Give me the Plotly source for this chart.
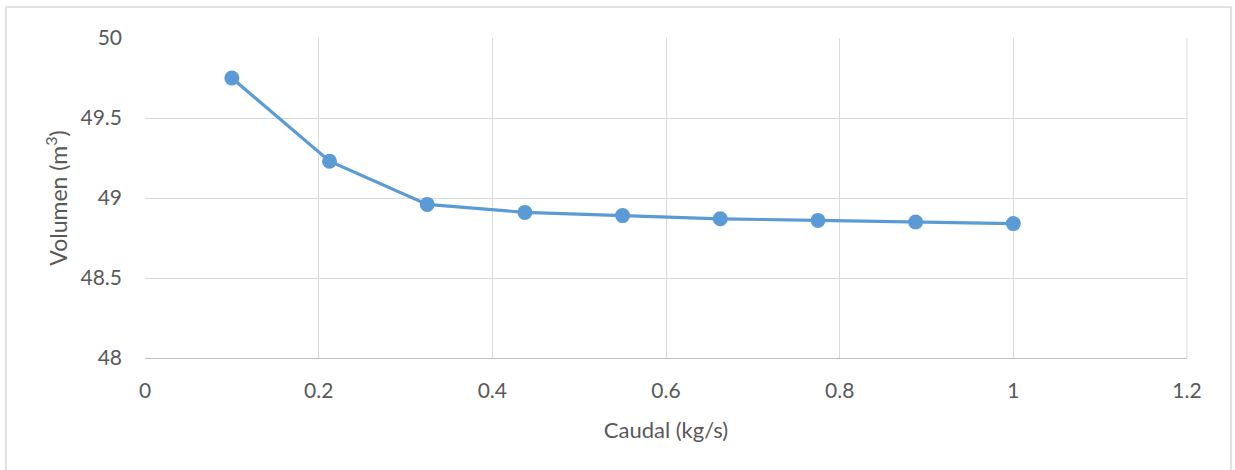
import plotly.graph_objects as go

# Flow rate (kg/s) and resulting volume (m3)
caudal = [0.1, 0.2125, 0.325, 0.4375, 0.55, 0.6625, 0.775, 0.8875, 1.0]
volumen = [49.75, 49.23, 48.96, 48.91, 48.89, 48.87, 48.86, 48.85, 48.84]

x_ticks = [0, 0.2, 0.4, 0.6, 0.8, 1.0, 1.2]
x_tick_text = ["0", "0.2", "0.4", "0.6", "0.8", "1", "1.2"]
y_ticks = [48, 48.5, 49, 49.5, 50]
y_tick_text = ["48", "48.5", "49", "49.5", "50"]

FONT = "Lato"
GRID = "#D9D9D9"
TEXT = "#595959"
BLUE = "#5B9BD5"

fig = go.Figure()
fig.add_trace(go.Scatter(
    x=caudal, y=volumen, mode="lines+markers",
    line=dict(color=BLUE, width=3.2),
    marker=dict(color=BLUE, size=15),
    showlegend=False,
))

fig.update_layout(
    width=1235, height=470,
    margin=dict(l=145, r=48, t=38, b=112),
    paper_bgcolor="white", plot_bgcolor="white",
    font=dict(family=FONT, size=21, color=TEXT),
    xaxis=dict(
        range=[0, 1.2], tickvals=x_ticks, ticktext=x_tick_text,
        tickfont=dict(family=FONT, size=21, color=TEXT),
        showgrid=True, gridcolor=GRID, gridwidth=1,
        zeroline=False, showline=True, linecolor="#BFBFBF", linewidth=1,
        ticks="", ticklabelstandoff=14,
        title=dict(text="Caudal (kg/s)", font=dict(family=FONT, size=22, color=TEXT), standoff=21),
    ),
    yaxis=dict(
        range=[48, 50], tickvals=y_ticks, ticktext=y_tick_text,
        tickfont=dict(family=FONT, size=21, color=TEXT),
        showgrid=True, gridcolor=GRID, gridwidth=1,
        zeroline=False, showline=False,
        ticks="", ticklabelstandoff=22,
        title=dict(text="Volumen (m<sup>3</sup>)", font=dict(family=FONT, size=23, color=TEXT), standoff=6),
    ),
)

# Right edge of the plot area drawn like a gridline
fig.add_shape(type="line", xref="paper", yref="paper", x0=1, x1=1, y0=0, y1=1,
              line=dict(color=GRID, width=1))

# Chart area border
fig.add_shape(type="rect", xref="paper", yref="paper",
              x0=(6 - 145) / 1042, x1=(1231 - 145) / 1042,
              y0=(358 - 480) / 320, y1=(358 - 7) / 320,
              line=dict(color="#D9D9D9", width=1.5), layer="below")

fig.write_html("out.html")
